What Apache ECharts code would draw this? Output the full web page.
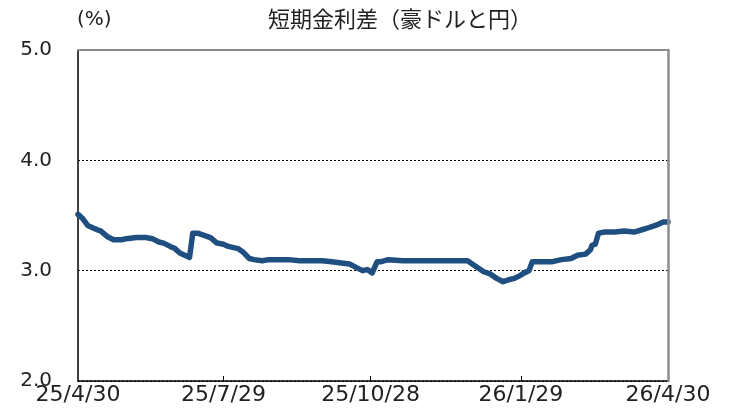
<!DOCTYPE html>
<html>
<head>
<meta charset="utf-8">
<script src="https://cdn.jsdelivr.net/npm/echarts@6/dist/echarts.min.js"></script>
<style>html,body{margin:0;padding:0;background:#fff}#c{width:734px;height:416px}</style>
</head>
<body>
<div id="c"></div>
<script>
var titleText = '短期金利差（豪ドルと円）';
var unitText = '(%)';
var tickDates = ['2025-04-30', '2025-07-29', '2025-10-28', '2026-01-29', '2026-04-30'];
var yTicks = [2, 3, 4, 5];
var dates = [
 '2025-04-30','2025-05-03','2025-05-06','2025-05-09','2025-05-12','2025-05-14','2025-05-18','2025-05-22','2025-05-27','2025-05-30',
 '2025-06-05','2025-06-11','2025-06-15','2025-06-19','2025-06-22','2025-06-26','2025-06-29','2025-07-02','2025-07-05','2025-07-08',
 '2025-07-09','2025-07-10','2025-07-13','2025-07-17','2025-07-21','2025-07-25','2025-07-29','2025-08-01','2025-08-07','2025-08-10',
 '2025-08-14','2025-08-17','2025-08-22','2025-08-26','2025-09-02','2025-09-07','2025-09-14','2025-09-22','2025-09-28','2025-10-04',
 '2025-10-10','2025-10-15','2025-10-19','2025-10-23','2025-10-26','2025-10-29','2025-11-01','2025-11-03','2025-11-08','2025-11-17',
 '2025-11-28','2025-12-08','2025-12-18','2025-12-27','2025-12-31','2026-01-03','2026-01-06','2026-01-10','2026-01-14','2026-01-18',
 '2026-01-22','2026-01-25','2026-01-29','2026-01-31','2026-02-03','2026-02-04','2026-02-05','2026-02-09','2026-02-17','2026-02-23',
 '2026-03-01','2026-03-05','2026-03-10','2026-03-13','2026-03-14','2026-03-16','2026-03-18','2026-03-22','2026-03-28','2026-04-03',
 '2026-04-09','2026-04-16','2026-04-20','2026-04-24','2026-04-27','2026-04-30'
];
var spread = [
 3.51,3.47,3.41,3.39,3.37,3.36,3.31,3.28,3.28,3.29,
 3.30,3.30,3.29,3.26,3.25,3.22,3.20,3.16,3.14,3.12,
 3.12,3.34,3.34,3.32,3.30,3.25,3.24,3.22,3.20,3.17,
 3.11,3.10,3.09,3.10,3.10,3.10,3.09,3.09,3.09,3.08,
 3.07,3.06,3.03,3.00,3.01,2.98,3.08,3.08,3.10,3.09,
 3.09,3.09,3.09,3.09,3.05,3.02,2.99,2.97,2.93,2.90,
 2.92,2.93,2.96,2.98,3.00,3.00,3.08,3.08,3.08,3.10,
 3.11,3.14,3.15,3.19,3.23,3.24,3.34,3.35,3.35,3.36,
 3.35,3.38,3.40,3.42,3.44,3.44
];

function ts(s){var p=s.split('-');return new Date(+p[0],+p[1]-1,+p[2]).getTime();}
var seriesData = dates.map(function(d,i){return [ts(d), spread[i]];});
var tickTs = tickDates.map(ts);
var numFont = "'DejaVu Sans', sans-serif";
function fmtDate(v){var d=new Date(v);return String(d.getFullYear()).slice(2)+'/'+(d.getMonth()+1)+'/'+d.getDate();}

var chart = echarts.init(document.getElementById('c'), null, {renderer:'canvas'});
chart.setOption({
  animation:false,
  backgroundColor:'#fff',
  title:{text:titleText, left:263, top:3,
    textStyle:{fontFamily:"'Noto Sans CJK JP', sans-serif", fontSize:22, fontWeight:'normal', color:'#222'}},
  graphic:[{type:'text', left:77, top:10, style:{text:unitText, font:"20px 'DejaVu Sans', sans-serif", fill:'#222'}}],
  grid:{left:78, right:66, top:50, bottom:35, containLabel:false},
  xAxis:[{
    type:'value', min:tickTs[0], max:tickTs[tickTs.length-1],
    axisLine:{show:true, lineStyle:{color:'#000', width:1.5}},
    axisTick:{show:true, inside:true, length:5, customValues:tickTs.slice(1,-1), lineStyle:{color:'#000', width:1}},
    axisLabel:{show:true, customValues:tickTs, margin:3, fontFamily:numFont, fontSize:22, color:'#222',
      formatter:function(v){return fmtDate(v);}},
    splitLine:{show:false}
  },{
    type:'value', position:'top', min:tickTs[0], max:tickTs[tickTs.length-1], z:5,
    axisLine:{show:true, lineStyle:{color:'#8c8c8c', width:2}},
    axisTick:{show:false}, axisLabel:{show:false}, splitLine:{show:false}
  }],
  yAxis:[{
    type:'value', min:yTicks[0], max:yTicks[yTicks.length-1], interval:1,
    axisLine:{show:true, lineStyle:{color:'#000', width:1.5}},
    axisTick:{show:false},
    axisLabel:{margin:26, fontFamily:numFont, fontSize:20, color:'#222', formatter:function(v){return v.toFixed(1);}},
    splitLine:{show:true, lineStyle:{color:'#000', type:[2,2], width:1}}
  },{
    type:'value', position:'right', min:yTicks[0], max:yTicks[yTicks.length-1], interval:1, z:5,
    axisLine:{show:true, lineStyle:{color:'#8c8c8c', width:2.5}},
    axisTick:{show:false}, axisLabel:{show:false}, splitLine:{show:false}
  }],
  series:[{
    type:'line', data:seriesData, xAxisIndex:0, yAxisIndex:0,
    showSymbol:false, symbol:'none',
    lineStyle:{color:'#1f4e80', width:5.5, join:'round', cap:'round'}
  }]
});
</script>
</body>
</html>
